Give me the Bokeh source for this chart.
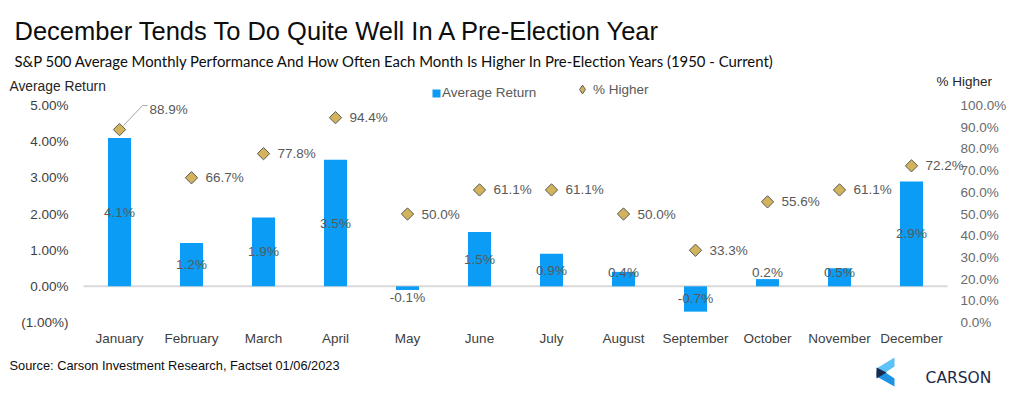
import numpy as np
from bokeh.plotting import figure
from bokeh.models import (Range1d, LinearAxis, FixedTicker, CustomJSTickFormatter,
                          Label, Legend, LegendItem, ColumnDataSource, PolyAnnotation)
from bokeh.embed import file_html
from bokeh.resources import INLINE
from bokeh.core.properties import value

# ---------------- data ----------------
months = ["January", "February", "March", "April", "May", "June", "July",
          "August", "September", "October", "November", "December"]
avg_return = [4.1, 1.2, 1.9, 3.5, -0.1, 1.5, 0.9, 0.4, -0.7, 0.2, 0.5, 2.9]
pct_higher = [88.9, 66.7, 77.8, 94.4, 50.0, 61.1, 61.1, 50.0, 33.3, 55.6, 61.1, 72.2]
left_ticks = [-1, 0, 1, 2, 3, 4, 5]
right_ticks = [0, 10, 20, 30, 40, 50, 60, 70, 80, 90, 100]

title_text = "December Tends To Do Quite Well In A Pre-Election Year"
subtitle_text = ("S&P 500 Average Monthly Performance And How Often Each Month Is Higher "
                 "In Pre-Election Years (1950 - Current)")
source_text = "Source: Carson Investment Research, Factset 01/06/2023"

# ---------------- layout (pixels of the canvas) ----------------
W, H = 1024, 396
PL, PR, PT, PB = 83, 947, 105, 322   # where the data area sits

BLUE = "#0b9cf5"
GOLD = "#d2b25b"
GREY = "#595959"
FONT = "Liberation Sans"

def extend(lo, hi, px_lo, px_hi, span_px, total):
    s = (hi - lo) / span_px
    return lo - px_lo * s, hi + (total - px_hi) * s

n = len(months)
x = list(range(n))
xs, xe = extend(-0.5, n - 0.5, PL, PR, PR - PL, W)
ys, ye = extend(left_ticks[0], left_ticks[-1], H - PB, H - PT, PB - PT, H)
ps, pe = extend(right_ticks[0], right_ticks[-1], H - PB, H - PT, PB - PT, H)

p = figure(width=W, height=H, output_backend="svg", toolbar_location=None, title=None,
           x_range=Range1d(xs, xe), y_range=Range1d(ys, ye),
           x_axis_location=None, y_axis_location=None,
           min_border=0, outline_line_color=None,
           background_fill_color="white", border_fill_color="white")
p.extra_y_ranges = {"pct": Range1d(ps, pe)}
p.grid.visible = False

def style_axis(ax, color, size="13.5px"):
    ax.axis_line_color = None
    ax.major_tick_line_color = None
    ax.minor_tick_line_color = None
    ax.major_tick_out = 0
    ax.major_tick_in = 0
    ax.minor_tick_out = 0
    ax.minor_tick_in = 0
    ax.major_label_text_font = FONT
    ax.major_label_text_font_size = size
    ax.major_label_text_color = color

xa = LinearAxis(ticker=FixedTicker(ticks=x), fixed_location=left_ticks[0],
                major_label_overrides={i: m for i, m in enumerate(months)})
style_axis(xa, "#404040")
xa.major_label_standoff = 8
p.add_layout(xa, "below")

ya = LinearAxis(ticker=FixedTicker(ticks=left_ticks), fixed_location=-0.5,
                formatter=CustomJSTickFormatter(code="return tick < 0 ? '(' + Math.abs(tick).toFixed(2) + '%)' : tick.toFixed(2) + '%';"))
style_axis(ya, "#404040")
ya.major_label_standoff = 15
p.add_layout(ya, "left")

ra = LinearAxis(y_range_name="pct", ticker=FixedTicker(ticks=right_ticks), fixed_location=n - 0.5,
                formatter=CustomJSTickFormatter(code="return tick.toFixed(1) + '%';"))
style_axis(ra, "#6a6a6a")
ra.major_label_standoff = 13
p.add_layout(ra, "right")

# zero line across the data area only
p.segment(x0=[-0.5], x1=[n - 0.5], y0=[0], y1=[0], line_color="#d9d9d9", line_width=2, level="underlay")

# bars
bars = p.vbar(x=x, top=avg_return, bottom=0, width=0.32, fill_color=BLUE, line_color=None)

# bar labels (centered in bar, kept clear of the zero line)
lab_y = [max(v / 2, 0.39) if v >= 0 else min(v / 2, -0.3) for v in avg_return]
p.text(x=x, y=lab_y, text=[f"{v:.1f}%" for v in avg_return], text_align="center",
       text_baseline="middle", text_font=value(FONT), text_font_size="13.5px", text_color=GREY)

# diamonds: a diamond-marker layer (used for the legend key, fully covered)
# and the visible rotated-square layer on top
dia_key = p.scatter(x=x, y=pct_higher, y_range_name="pct", marker="diamond", size=8,
                    fill_color=GOLD, line_color="#5a5a5a", line_width=1)
dia = p.scatter(x=x, y=pct_higher, y_range_name="pct", marker="square", angle=np.pi / 4,
                size=8.7, fill_color=GOLD, line_color="#5a5a5a", line_width=1)

# diamond labels; first point uses a callout with leader line
px_x = (PR - PL) / n
px_y = (PB - PT) / (right_ticks[-1] - right_ticks[0])
callout = 0
x_off = [30 if i == callout else 14 for i in x]
y_off = [-20 if i == callout else 0 for i in x]
src = ColumnDataSource(dict(x=x, y=pct_higher, t=[f"{v:.1f}%" for v in pct_higher],
                            xo=x_off, yo=y_off))
p.text(x="x", y="y", text="t", x_offset="xo", y_offset="yo", source=src, y_range_name="pct",
       text_align="left", text_baseline="middle", text_font=value(FONT),
       text_font_size="13.5px", text_color=GREY)
cx, cy = x[callout], pct_higher[callout]
p.line(x=[cx + 4 / px_x, cx + 23 / px_x, cx + 28 / px_x],
       y=[cy + 4 / px_y, cy + 24 / px_y, cy + 24 / px_y],
       y_range_name="pct", line_color="#a6a6a6", line_width=1)

# legends
leg1 = Legend(items=[LegendItem(label="Average Return", renderers=[bars])],
              location=(431, H - 100), orientation="horizontal",
              glyph_width=10, glyph_height=10, label_standoff=1)
leg2 = Legend(items=[LegendItem(label="% Higher", renderers=[dia_key])],
              location=(571, H - 100), orientation="horizontal",
              glyph_width=22, glyph_height=22, label_standoff=-5)
for lg in (leg1, leg2):
    lg.padding = 0
    lg.margin = 0
    lg.border_line_color = None
    lg.background_fill_alpha = 0
    lg.label_text_font = FONT
    lg.label_text_font_size = "13.5px"
    lg.label_text_color = GREY
    p.add_layout(lg)

def add_label(text, X, Y, size, color, font=FONT, align="left", style="normal"):
    p.add_layout(Label(x=X, y=H - Y, x_units="screen", y_units="screen", text=text,
                       text_font=font, text_font_size=size, text_color=color,
                       text_align=align, text_baseline="alphabetic", text_font_style=style))

add_label(title_text, 14, 30, "25.5px", "#0d0d0d")
add_label(subtitle_text, 14, 60, "14.9px", "#0d0d0d", font="Lato")
add_label("Average Return", 9, 86, "13.8px", "#262626")
add_label("% Higher", 936, 81, "13.5px", "#262626")
add_label(source_text, 9, 365, "12.8px", "#0d0d0d")
add_label("CARSON", 958, 377, "15.5px", "#1c2a48", font="DejaVu Sans", align="center")

# logo chevron
def poly(pts, color):
    p.add_layout(PolyAnnotation(xs=[a for a, b in pts], ys=[H - b for a, b in pts],
                                xs_units="screen", ys_units="screen", fill_color=color,
                                fill_alpha=1, line_color=None))

poly([(876, 368), (894, 357), (894, 366), (885, 372)], "#5cc2f7")
poly([(876, 371), (885, 372), (894, 378), (894, 386), (876, 376)], "#1f93e3")
poly([(876, 367), (886, 372), (876, 378)], "#1a2b4d")

open("out.html", "w").write(file_html(p, INLINE))
